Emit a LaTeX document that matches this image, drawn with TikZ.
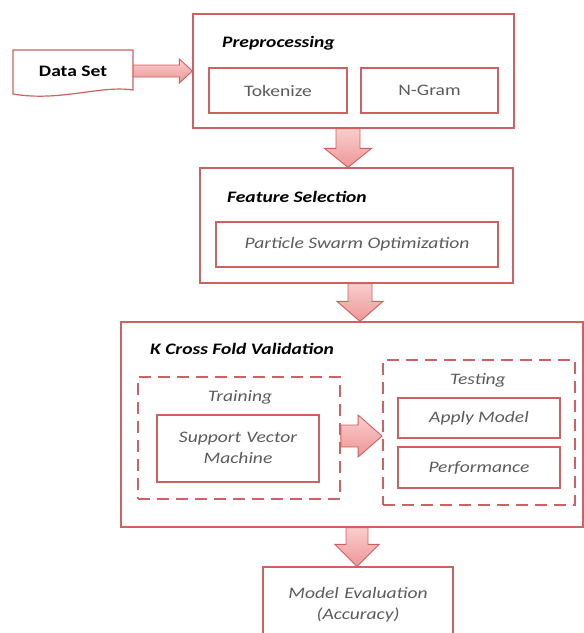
\documentclass[tikz,border=0pt]{standalone}
\usepackage{fontspec}
\setmainfont[FakeStretch=1.22]{Carlito}
\usetikzlibrary{calc}
\definecolor{boxred}{RGB}{206,98,98}
\definecolor{arrowdraw}{RGB}{208,96,96}
\definecolor{arrowlight}{RGB}{250,205,205}
\definecolor{arrowdark}{RGB}{238,150,150}
\definecolor{txtgray}{RGB}{92,92,92}
\tikzset{
  box/.style={draw=boxred, line width=1.2pt, inner sep=0pt},
  dbox/.style={draw=boxred, line width=1.8pt, dash pattern=on 12pt off 7pt, inner sep=0pt},
  title/.style={anchor=west, inner sep=0pt, font=\fontsize{16}{19}\selectfont\bfseries\itshape, text=black},
  inner/.style={inner sep=0pt, font=\fontsize{16}{19}\selectfont\itshape, text=txtgray, align=center},
  plain/.style={inner sep=0pt, font=\fontsize{16}{19}\selectfont, text=txtgray},
  barrow/.style={draw=arrowdraw, line width=0.9pt, top color=arrowlight, bottom color=arrowdark, line join=miter},
}
\newcommand{\rblock}[5]{%
  \path[barrow] let \p1=#1, \p2=#2 in
    (\x1,{\y1+#3}) -- ({\x2-#5},{\y1+#3}) -- ({\x2-#5},{\y1+#4}) -- (\x2,\y1)
    -- ({\x2-#5},{\y1-#4}) -- ({\x2-#5},{\y1-#3}) -- (\x1,{\y1-#3}) -- cycle;}
\newcommand{\dblock}[5]{%
  \path[barrow] let \p1=#1, \p2=#2 in
    ({\x1-#3},\y1) -- ({\x1-#3},{\y2+#5}) -- ({\x1-#4},{\y2+#5}) -- (\x1,\y2)
    -- ({\x1+#4},{\y2+#5}) -- ({\x1+#3},{\y2+#5}) -- ({\x1+#3},\y1) -- cycle;}
\begin{document}
\begin{tikzpicture}[x=1pt,y=-1pt]
\clip (0,0) rectangle (584,633);
\fill[white] (0,0) rectangle (584,633);

% Data set (document shape)
\draw[draw=boxred, line width=1.2pt, fill=white]
  (13,50) -- (133,50) -- (133,90) .. controls (100,85) and (60,102) .. (13,94) -- cycle;
\node[inner sep=0pt, font=\fontsize{16}{19}\selectfont\bfseries, minimum width=120pt, minimum height=40pt] (ds) at (73,71) {Data Set};

% Preprocessing
\node[box, minimum width=321pt, minimum height=114pt] (pre) at (353.5,71) {};
\node[title] (pretitle) at (222,43) {Preprocessing};
\node[box, minimum width=138pt, minimum height=45pt] (tok) at (278,90.5) {};
\node[plain] (toktext) at (tok.center) {Tokenize};
\node[box, minimum width=137pt, minimum height=45pt] (ngram) at (429.5,90.5) {};
\node[plain] (ngramtext) at (ngram.center) {N-Gram};

% Feature selection
\node[box, minimum width=313pt, minimum height=115pt] (fs) at (356.5,225.5) {};
\node[title] (fstitle) at (227,197) {Feature Selection};
\node[box, minimum width=282pt, minimum height=45pt] (pso) at (357,244.5) {};
\node[inner] (psotext) at (pso.center) {Particle Swarm Optimization};

% K cross fold validation
\node[box, minimum width=462pt, minimum height=205pt] (kcv) at (352,424.5) {};
\node[title] (kcvtitle) at (150,349) {K Cross Fold Validation};
\node[dbox, minimum width=202pt, minimum height=122pt] (train) at (239,438) {};
\node[inner] (traintext) at (240,397) {Training};
\node[box, minimum width=162pt, minimum height=67pt] (svm) at (238,448.5) {};
\node[inner, text width=160pt] (svmtext) at (238,448) {Support Vector\\[2pt]Machine};
\node[dbox, minimum width=192pt, minimum height=145pt] (test) at (479,432.5) {};
\node[inner] (testtext) at (478,380) {Testing};
\node[box, minimum width=162pt, minimum height=40pt] (apply) at (479,418) {};
\node[inner] (applytext) at (apply.center) {Apply Model};
\node[box, minimum width=162pt, minimum height=41pt] (perf) at (479,467.5) {};
\node[inner] (perftext) at (perf.center) {Performance};

% Model evaluation
\node[box, minimum width=190pt, minimum height=80pt] (me) at (358,607) {};
\node[inner, text width=188pt] (metext) at (358,605) {Model Evaluation\\[2pt](Accuracy)};

% arrows
\coordinate (a2x) at (348,0);
\coordinate (a3x) at (360,0);
\coordinate (a5x) at (357,0);
\coordinate (a4y) at (0,436);
\rblock{(ds.east)}{(pre.west |- ds.east)}{6pt}{12pt}{13pt}
\dblock{(pre.south -| a2x)}{(fs.north -| a2x)}{12pt}{23.5pt}{19pt}
\dblock{(fs.south -| a3x)}{(kcv.north -| a3x)}{12pt}{23pt}{20pt}
\rblock{(train.east |- a4y)}{(test.west |- a4y)}{11pt}{21pt}{24pt}
\dblock{(kcv.south -| a5x)}{(me.north -| a5x)}{11pt}{22pt}{22pt}
\end{tikzpicture}
\end{document}
